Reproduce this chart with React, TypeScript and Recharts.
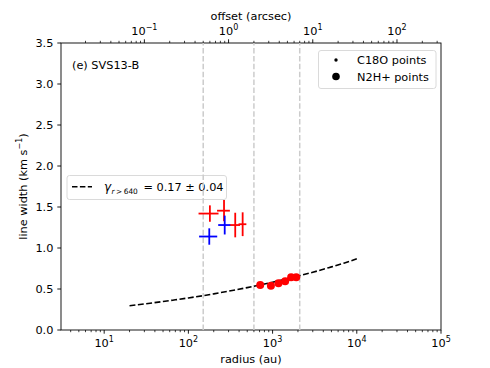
import React from 'react';
import {
  ComposedChart,
  XAxis,
  YAxis,
  Scatter,
  Line,
  ErrorBar,
  ReferenceLine,
  Customized,
} from 'recharts';

// ---------------- data ----------------
const redCrossRadius = [180, 265, 360, 441];
const redCrossWidth = [1.42, 1.455, 1.28, 1.29];
const redCrossRadiusErr = [48, 46, 50, 47];
const redCrossWidthErr = [0.1, 0.13, 0.15, 0.145];

const blueCrossRadius = [177, 270];
const blueCrossWidth = [1.14, 1.28];
const blueCrossRadiusErr = [43, 44];
const blueCrossWidthErr = [0.1, 0.115];

const n2hRadius = [713, 955, 1175, 1410, 1660, 1910];
const n2hWidth = [0.549, 0.54, 0.57, 0.594, 0.643, 0.643];

const fitRadius = [20, 30, 50, 70, 100, 150, 200, 300, 500, 700, 1000, 1500, 2000, 3000, 5000, 7000, 10000];
const fitWidth = [0.296, 0.318, 0.347, 0.368, 0.391, 0.419, 0.441, 0.473, 0.517, 0.548, 0.583, 0.625, 0.657, 0.704, 0.77, 0.815, 0.868];

const guideRadius = [150, 600, 2100];

const radiusMajorTicks = [10, 100, 1000, 10000, 100000];
const offsetMajorTicks = [0.1, 1, 10, 100];
const widthTicks = [0, 0.5, 1, 1.5, 2, 2.5, 3, 3.5];
const widthTickLabels = ['0.0', '0.5', '1.0', '1.5', '2.0', '2.5', '3.0', '3.5'];

const DIST_PC = 300;
const R_MIN = 3.07;
const R_MAX = 100000;

// ---------------- derived tables ----------------
const redCross = redCrossRadius.map((r, i) => ({ r, w: redCrossWidth[i], ex: redCrossRadiusErr[i], ey: redCrossWidthErr[i] }));
const blueCross = blueCrossRadius.map((r, i) => ({ r, w: blueCrossWidth[i], ex: blueCrossRadiusErr[i], ey: blueCrossWidthErr[i] }));
const n2h = n2hRadius.map((r, i) => ({ r, w: n2hWidth[i] }));
const n2hOffset = n2hRadius.map((r, i) => ({ r: r / DIST_PC, w: n2hWidth[i] }));
const fit = fitRadius.map((r, i) => ({ r, w: fitWidth[i] }));

function logTicks(major: number[], lo: number, hi: number) {
  const out: number[] = [];
  const decades = [major[0] / 10, ...major];
  decades.forEach((d) => {
    for (let m = 1; m <= 9; m++) {
      const v = parseFloat((m * d).toPrecision(6));
      if (v >= lo && v <= hi) out.push(v);
    }
  });
  return Array.from(new Set(out)).sort((a, b) => a - b);
}

const radiusTicks = logTicks(radiusMajorTicks, R_MIN, R_MAX);
const offsetTicks = logTicks(offsetMajorTicks, R_MIN / DIST_PC, R_MAX / DIST_PC);

const FONT = 'DejaVu Sans, Verdana, sans-serif';
const FS = 11.3;
const SUP = 8;

const isMajor = (v: number) => Math.abs(Math.log10(v) - Math.round(Math.log10(v))) < 1e-6;
const expLabel = (v: number) => {
  const e = Math.round(Math.log10(v));
  return e < 0 ? '\u2212' + Math.abs(e) : String(e);
};

const BottomTick = (props: any) => {
  const { x, y, payload } = props;
  const v = payload.value;
  const major = isMajor(v);
  return (
    <g>
      <line x1={x} x2={x} y1={y} y2={y + (major ? 3.7 : 2.2)} stroke="#000" strokeWidth={major ? 0.9 : 0.75} />
      {major && (
        <text x={x} y={y + 16.5} textAnchor="middle" fontFamily={FONT} fontSize={FS} fill="#000">
          10<tspan dy={-4.8} fontSize={SUP}>{expLabel(v)}</tspan>
        </text>
      )}
    </g>
  );
};

const TopTick = (props: any) => {
  const { x, y, payload } = props;
  const v = payload.value;
  const major = isMajor(v);
  return (
    <g>
      <line x1={x} x2={x} y1={y} y2={y - (major ? 3.7 : 2.2)} stroke="#000" strokeWidth={major ? 0.9 : 0.75} />
      {major && (
        <text x={x} y={y - 8.2} textAnchor="middle" fontFamily={FONT} fontSize={FS} fill="#000">
          10<tspan dy={-4.8} fontSize={SUP}>{expLabel(v)}</tspan>
        </text>
      )}
    </g>
  );
};

const LeftTick = (props: any) => {
  const { x, y, payload } = props;
  const idx = widthTicks.indexOf(payload.value);
  return (
    <g>
      <line x1={x - 3.7} x2={x} y1={y} y2={y} stroke="#000" strokeWidth={0.9} />
      <text x={x - 7.6} y={y + 4.1} textAnchor="end" fontFamily={FONT} fontSize={FS} fill="#000">
        {idx >= 0 ? widthTickLabels[idx] : payload.value}
      </text>
    </g>
  );
};

const NoMark = () => <g />;
const RedDot = (p: any) => <circle cx={p.cx} cy={p.cy} r={4} fill="#ff0000" />;

const PL = 61, PT = 43, PW = 380, PH = 287;

const Overlay = () => (
  <g>
    <rect x={PL} y={PT} width={PW} height={PH} fill="none" stroke="#000" strokeWidth={0.9} />
    {/* axis labels */}
    <text x={PL + PW / 2} y={362.5} textAnchor="middle" fontFamily={FONT} fontSize={FS} fill="#000">radius (au)</text>
    <text x={PL + PW / 2} y={20} textAnchor="middle" fontFamily={FONT} fontSize={FS} fill="#000">offset (arcsec)</text>
    <text
      x={27}
      y={PT + PH / 2}
      textAnchor="middle"
      fontFamily={FONT}
      fontSize={FS}
      fill="#000"
      transform={`rotate(-90, 27, ${PT + PH / 2})`}
    >
      line width (km s<tspan dy={-4.8} fontSize={SUP}>{'\u22121'}</tspan><tspan dy={4.8}>)</tspan>
    </text>
    {/* title */}
    <text x={72} y={68.5} fontFamily={FONT} fontSize={FS} fill="#000">(e) SVS13-B</text>
    {/* legend 1 */}
    <rect x={318.5} y={50.5} width={117.5} height={38} rx={2.5} fill="#fff" fillOpacity={0.8} stroke="#d6d6d6" strokeWidth={0.9} />
    <circle cx={336} cy={60} r={1.7} fill="#000" />
    <text x={357} y={64} fontFamily={FONT} fontSize={FS} fill="#000">C18O points</text>
    <circle cx={336} cy={76.5} r={3.8} fill="#000" />
    <text x={357} y={80.5} fontFamily={FONT} fontSize={FS} fill="#000">N2H+ points</text>
    {/* legend 2 */}
    <rect x={67} y={175.5} width={159.5} height={24} rx={2.5} fill="#fff" fillOpacity={0.8} stroke="#d6d6d6" strokeWidth={0.9} />
    <line x1={72} x2={92} y1={186.8} y2={186.8} stroke="#000" strokeWidth={1.6} strokeDasharray="5.5 2.4" />
    <text x={104} y={190.8} fontFamily={FONT} fontSize={12} fill="#000">
      <tspan fontStyle="italic">γ</tspan>
    </text>
    <text x={111.5} y={193.6} fontFamily={FONT} fontSize={7.4} fill="#000">
      <tspan fontStyle="italic">r</tspan>
      <tspan>{'\u2009>\u2009640'}</tspan>
    </text>
    <text x={143.5} y={190.8} fontFamily={FONT} fontSize={FS} fill="#000">= 0.17 ± 0.04</text>
  </g>
);

export default function App() {
  return (
    <div style={{ position: 'absolute', left: 0, top: 0, width: 490, height: 368, background: '#fff' }}>
      <ComposedChart width={490} height={368} margin={{ top: 0, right: 49, bottom: 0, left: 0 }}>
        <XAxis
          xAxisId="r"
          dataKey="r"
          type="number"
          scale="log"
          domain={[R_MIN, R_MAX]}
          allowDataOverflow
          ticks={radiusTicks}
          interval={0}
          orientation="bottom"
          height={38}
          tickSize={0}
          tickMargin={0}
          axisLine={false}
          tickLine={false}
          tick={<BottomTick />}
        />
        <XAxis
          xAxisId="off"
          dataKey="r"
          type="number"
          scale="log"
          domain={[R_MIN / DIST_PC, R_MAX / DIST_PC]}
          allowDataOverflow
          ticks={offsetTicks}
          interval={0}
          orientation="top"
          height={43}
          tickSize={0}
          tickMargin={0}
          axisLine={false}
          tickLine={false}
          tick={<TopTick />}
        />
        <YAxis
          dataKey="w"
          type="number"
          domain={[0, 3.5]}
          allowDataOverflow
          ticks={widthTicks}
          interval={0}
          width={61}
          tickSize={0}
          tickMargin={0}
          axisLine={false}
          tickLine={false}
          tick={<LeftTick />}
        />
        {guideRadius.map((g) => (
          <ReferenceLine key={g} xAxisId="r" x={g} stroke="#cccccc" strokeWidth={1.5} strokeDasharray="5.5 2.4" />
        ))}
        <Scatter xAxisId="off" data={n2hOffset} shape={<NoMark />} isAnimationActive={false} />
        <Scatter xAxisId="r" data={redCross} shape={<NoMark />} isAnimationActive={false}>
          <ErrorBar dataKey="ex" direction="x" width={0} stroke="#ff0000" strokeWidth={1.8} isAnimationActive={false} />
          <ErrorBar dataKey="ey" direction="y" width={0} stroke="#ff0000" strokeWidth={1.8} isAnimationActive={false} />
        </Scatter>
        <Scatter xAxisId="r" data={blueCross} shape={<NoMark />} isAnimationActive={false}>
          <ErrorBar dataKey="ex" direction="x" width={0} stroke="#0000ff" strokeWidth={1.8} isAnimationActive={false} />
          <ErrorBar dataKey="ey" direction="y" width={0} stroke="#0000ff" strokeWidth={1.8} isAnimationActive={false} />
        </Scatter>
        <Line
          xAxisId="r"
          data={fit}
          dataKey="w"
          type="monotone"
          stroke="#000"
          strokeWidth={1.6}
          strokeDasharray="5.9 2.5"
          dot={false}
          activeDot={false}
          isAnimationActive={false}
        />
        <Scatter xAxisId="r" data={n2h} shape={<RedDot />} isAnimationActive={false} />
        <Customized component={<Overlay />} />
      </ComposedChart>
    </div>
  );
}
